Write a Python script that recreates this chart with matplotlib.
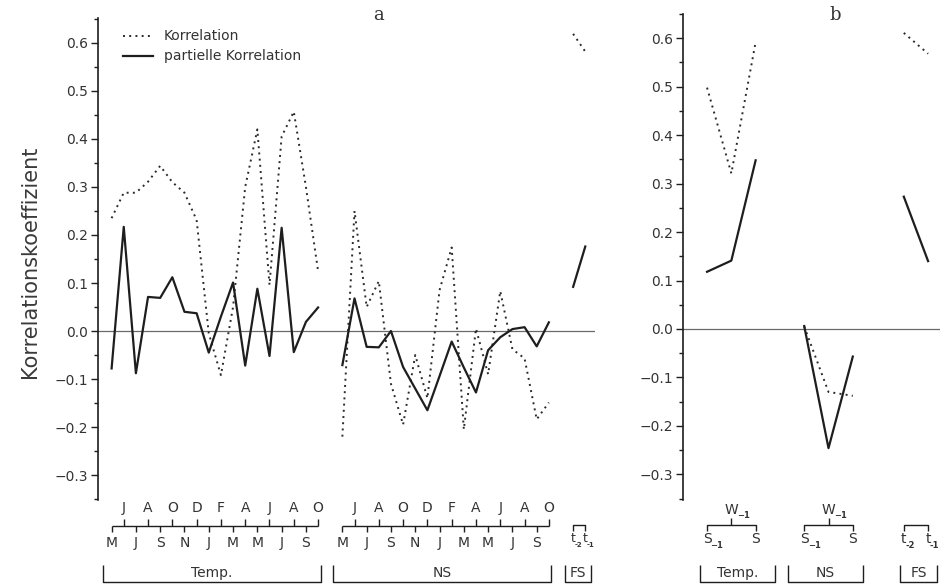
import matplotlib
matplotlib.use('Agg')
import matplotlib.pyplot as plt
import matplotlib.transforms as mtransforms
from matplotlib.ticker import MultipleLocator, FuncFormatter
import numpy as np

plt.rcParams['font.family'] = ['DejaVu Sans']

# ---- values ----
months = ['M', 'J', 'J', 'A', 'S', 'O', 'N', 'D', 'J',
          'F', 'M', 'A', 'M', 'J', 'J', 'A', 'S', 'O']

# panel a: monthly Temp., monthly NS, FS (t-2, t-1)
temp_corr = [0.235, 0.288, 0.288, 0.311, 0.344, 0.31, 0.288, 0.231, -0.005,
             -0.092, 0.05, 0.30, 0.42, 0.096, 0.405, 0.457, 0.30, 0.125]
temp_part = [-0.078, 0.217, -0.088, 0.071, 0.069, 0.112, 0.040, 0.037, -0.045,
             0.03, 0.101, -0.072, 0.088, -0.052, 0.215, -0.044, 0.019, 0.049]
ns_corr = [-0.22, 0.25, 0.05, 0.104, -0.11, -0.195, -0.05, -0.14, 0.085,
           0.174, -0.205, 0.005, -0.09, 0.083, -0.038, -0.057, -0.184, -0.149]
ns_part = [-0.071, 0.068, -0.033, -0.034, 0.0, -0.075, -0.12, -0.165, -0.094,
           -0.022, -0.076, -0.128, -0.04, -0.013, 0.004, 0.008, -0.032, 0.018]
fs_corr = [0.619, 0.582]
fs_part = [0.092, 0.176]

# panel b: seasons (S-1, W-1, S) for Temp. and NS, FS (t-2, t-1)
b_temp_corr = [0.498, 0.321, 0.592]
b_temp_part = [0.118, 0.141, 0.348]
b_ns_corr = [0.005, -0.13, -0.138]
b_ns_part = [0.006, -0.246, -0.057]
b_fs_corr = [0.611, 0.568]
b_fs_part = [0.273, 0.14]

W, H = 948, 585
ink = '#1e1e1e'
txt = '#333333'
dot_style = dict(color='#2a2a2a', lw=1.4, linestyle=(0, (1, 2.2)))
solid_style = dict(color=ink, lw=1.6)


def fy(py):
    # pixel row -> figure fraction
    return 1 - py / H


def blend(ax):
    return mtransforms.blended_transform_factory(ax.transData, fig.transFigure)


def seg(ax, xs, pys):
    ax.plot(xs, [fy(p) for p in pys], color=ink, lw=1.0,
            transform=blend(ax), clip_on=False, solid_capstyle='butt')


def label(ax, x, py, s, size=10):
    ax.text(x, fy(py), s, transform=blend(ax), ha='center', va='center',
            fontsize=size, color=txt)


def sublabel(ax, x, py, base, sub, half, size=10, subsize=6):
    # main letter centred on x, small subscript tucked under its right side
    label(ax, x, py, base, size)
    tr = mtransforms.offset_copy(blend(ax), fig=fig, x=half - 1, y=-6,
                                 units='dots')
    ax.text(x, fy(py), sub, transform=tr, ha='left', va='center',
            fontsize=subsize, color=txt, fontweight='bold')


def bracket(ax, x0, x1, s):
    seg(ax, [x0, x0, x1, x1], [565, 582, 582, 565])
    label(ax, (x0 + x1) / 2, 573, s)


def month_axis(ax, off):
    seg(ax, [off, off + 17], [526, 526])
    for i, m in enumerate(months):
        if i % 2 == 0:
            seg(ax, [off + i, off + i], [526, 532])
            label(ax, off + i, 543, m)
        else:
            seg(ax, [off + i, off + i], [519, 526])
            label(ax, off + i, 508, m)


def lag_pair(ax, x0, x1, size, subsize):
    seg(ax, [x0, x0, x1, x1], [531, 525, 525, 531])
    sublabel(ax, x0, 539, 't', '-2', 2.5, size, subsize)
    sublabel(ax, x1, 539, 't', '-1', 2.5, size, subsize)


def season_axis(ax, x0):
    sublabel(ax, x0 + 1, 510, 'W', '\u22121', 6.5)
    seg(ax, [x0 + 1, x0 + 1], [518, 525])
    seg(ax, [x0, x0, x0 + 2, x0 + 2], [531, 525, 525, 531])
    sublabel(ax, x0, 539, 'S', '\u22121', 4.5)
    label(ax, x0 + 2, 539, 'S')


def fmt(v, pos):
    v = round(v, 2)
    if abs(v) < 1e-9:
        return '0.0'
    return ('%.1f' % v).replace('-', '\u2212')


def style_axis(ax):
    for s in ['top', 'right', 'bottom']:
        ax.spines[s].set_visible(False)
    ax.spines['left'].set_color(ink)
    ax.spines['left'].set_linewidth(1.2)
    ax.set_yticks(np.arange(-0.3, 0.61, 0.1))
    ax.yaxis.set_minor_locator(MultipleLocator(0.05))
    ax.yaxis.set_major_formatter(FuncFormatter(fmt))
    ax.tick_params(axis='y', which='major', direction='out', length=5,
                   width=1.0, color=ink, labelsize=10, labelcolor=txt, pad=2)
    ax.tick_params(axis='y', which='minor', direction='out', length=3,
                   width=1.0, color=ink)
    ax.set_xticks([])
    ax.axhline(0, color='#6a6a6a', lw=0.9, zorder=1)


fig = plt.figure(figsize=(W / 100, H / 100), dpi=100)

# ---------------- panel a ----------------
ax1 = fig.add_axes([98 / W, 1 - 500 / H, (595 - 98) / W, (500 - 18) / H])
ax1.set_xlim(-1.12, 39.8)
ax1.set_ylim(-0.352, 0.652)
style_axis(ax1)

temp_x = np.arange(len(months))
ns_x = np.arange(len(months)) + 19
fs_x = np.array([38, 39])

for xs, c, p in [(temp_x, temp_corr, temp_part), (ns_x, ns_corr, ns_part),
                 (fs_x, fs_corr, fs_part)]:
    ax1.plot(xs, c, **dot_style)
    ax1.plot(xs, p, **solid_style)

month_axis(ax1, 0)
month_axis(ax1, 19)
lag_pair(ax1, 38, 39, 9, 5)
bracket(ax1, -0.7, 17.25, 'Temp.')
bracket(ax1, 18.25, 36.2, 'NS')
bracket(ax1, 37.3, 39.5, 'FS')

# legend drawn by hand, as in the original
fig.lines.append(plt.Line2D([123 / W, 153 / W], [fy(36), fy(36)],
                            transform=fig.transFigure, **dot_style))
fig.lines.append(plt.Line2D([123 / W, 153 / W], [fy(56), fy(56)],
                            transform=fig.transFigure, **solid_style))
fig.text(164 / W, fy(36), 'Korrelation', fontsize=10, color=txt, va='center')
fig.text(164 / W, fy(56), 'partielle Korrelation', fontsize=10, color=txt,
         va='center')

# ---------------- panel b ----------------
ax2 = fig.add_axes([683 / W, 1 - 500 / H, (940 - 683) / W, (500 - 14) / H])
ax2.set_xlim(-0.99, 9.59)
ax2.set_ylim(-0.353, 0.65)
style_axis(ax2)

b_temp_x = np.arange(3)
b_ns_x = np.arange(3) + 4
b_fs_x = np.arange(2) + 8.1

for xs, c, p in [(b_temp_x, b_temp_corr, b_temp_part),
                 (b_ns_x, b_ns_corr, b_ns_part),
                 (b_fs_x, b_fs_corr, b_fs_part)]:
    ax2.plot(xs, c, **dot_style)
    ax2.plot(xs, p, **solid_style)

season_axis(ax2, 0)
season_axis(ax2, 4)
lag_pair(ax2, 8.1, 9.1, 10, 6)
bracket(ax2, -0.29, 2.8, 'Temp.')
bracket(ax2, 3.33, 6.42, 'NS')
bracket(ax2, 7.94, 9.47, 'FS')

# panel letters and y label
fig.text(378 / W, fy(15), 'a', fontsize=13, family='DejaVu Serif',
         color=txt, ha='center', va='center')
fig.text(835 / W, fy(15), 'b', fontsize=13, family='DejaVu Serif',
         color=txt, ha='center', va='center')
fig.text(30 / W, fy(262), 'Korrelationskoeffizient', fontsize=15,
         rotation=90, color='#3a3a3a', ha='center', va='center')

fig.savefig('out.png', dpi=100, facecolor='white')
